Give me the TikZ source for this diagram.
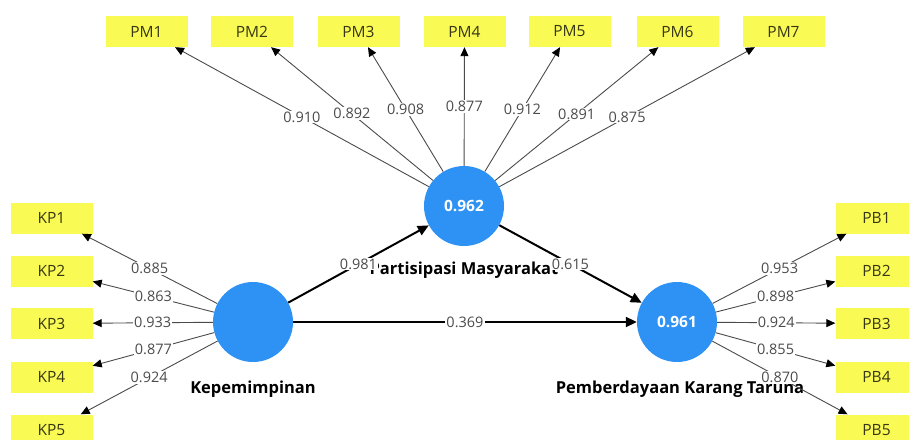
\documentclass[tikz,border=0pt]{standalone}
\usepackage{fontspec}
\setmainfont{Open Sans}
\usetikzlibrary{arrows.meta}
\definecolor{lvblue}{RGB}{46,146,245}
\definecolor{indyellow}{RGB}{250,250,85}
\definecolor{indtext}{RGB}{55,55,20}
\definecolor{loadgray}{RGB}{75,75,75}
\begin{document}
\begin{tikzpicture}[x=1pt,y=-1pt,
  lv/.style={circle,fill=lvblue,minimum size=80pt,inner sep=0pt,text=white,font=\fontsize{15.5}{18}\selectfont\bfseries},
  ind/.style={fill=indyellow,minimum width=82pt,minimum height=31pt,inner sep=0pt,text=indtext,font=\fontsize{15.5}{18}\selectfont},
  loadedge/.style={draw=loadgray,line width=0.9pt,-{Triangle[length=9pt,width=8pt,color=black]}},
  lbl/.style={fill=white,inner sep=1pt,text=loadgray,font=\fontsize{14.5}{17}\selectfont},
  structedge/.style={draw=black,line width=2pt,-{Triangle[length=11pt,width=10pt]}},
  lvname/.style={font=\fontsize{16.5}{19}\selectfont\bfseries,text=black}]
\useasboundingbox (0,0) rectangle (909,439);
\clip (0,0) rectangle (909,439);
% latent variables
\node[lv] (pm) at (464,206) {0.962};
\node[lv] (kp) at (253,322) {};
\node[lv] (pb) at (677,322) {0.961};
% names
\node[lvname] (pmname) at (464,270) {Partisipasi Masyarakat};
\node[lvname] (kpname) at (253,389) {Kepemimpinan};
\node[lvname] (pbname) at (680,389) {Pemberdayaan Karang Taruna};
% indicators PM
\node[ind] (pm1) at (146.5,31.5) {PM1};
\node[ind] (pm2) at (252,31.5) {PM2};
\node[ind] (pm3) at (358.5,31.5) {PM3};
\node[ind] (pm4) at (464.5,31.5) {PM4};
\node[ind] (pm5) at (569.5,31.5) {PM5};
\node[ind] (pm6) at (677.5,31.5) {PM6};
\node[ind] (pm7) at (783.5,31.5) {PM7};
% indicators KP
\node[ind] (kp1) at (51.5,218) {KP1};
\node[ind] (kp2) at (51.5,271) {KP2};
\node[ind] (kp3) at (51.5,323.5) {KP3};
\node[ind] (kp4) at (51.5,377) {KP4};
\node[ind] (kp5) at (51.5,430) {KP5};
% indicators PB
\node[ind] (pb1) at (876.5,218) {PB1};
\node[ind] (pb2) at (876.5,271) {PB2};
\node[ind] (pb3) at (876.5,323.5) {PB3};
\node[ind] (pb4) at (876.5,377) {PB4};
\node[ind] (pb5) at (876.5,430) {PB5};
% loadings PM
\draw[loadedge] (pm) -- node[lbl]{0.910} (pm1);
\draw[loadedge] (pm) -- node[lbl]{0.892} (pm2);
\draw[loadedge] (pm) -- node[lbl]{0.908} (pm3);
\draw[loadedge] (pm) -- node[lbl]{0.877} (pm4);
\draw[loadedge] (pm) -- node[lbl]{0.912} (pm5);
\draw[loadedge] (pm) -- node[lbl]{0.891} (pm6);
\draw[loadedge] (pm) -- node[lbl]{0.875} (pm7);
% loadings KP
\draw[loadedge] (kp) -- node[lbl]{0.885} (kp1);
\draw[loadedge] (kp) -- node[lbl]{0.863} (kp2);
\draw[loadedge] (kp) -- node[lbl]{0.933} (kp3);
\draw[loadedge] (kp) -- node[lbl]{0.877} (kp4);
\draw[loadedge] (kp) -- node[lbl]{0.924} (kp5);
% loadings PB
\draw[loadedge] (pb) -- node[lbl]{0.953} (pb1);
\draw[loadedge] (pb) -- node[lbl]{0.898} (pb2);
\draw[loadedge] (pb) -- node[lbl]{0.924} (pb3);
\draw[loadedge] (pb) -- node[lbl]{0.855} (pb4);
\draw[loadedge] (pb) -- node[lbl]{0.870} (pb5);
% structural paths
\draw[structedge] (kp) -- node[lbl]{0.981} (pm);
\draw[structedge] (pm) -- node[lbl]{0.615} (pb);
\draw[structedge] (kp) -- node[lbl]{0.369} (pb);
\end{tikzpicture}
\end{document}
